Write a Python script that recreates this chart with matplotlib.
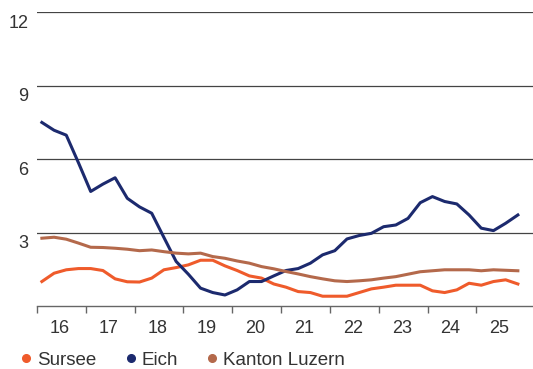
import matplotlib
matplotlib.use("Agg")
import matplotlib.pyplot as plt
import matplotlib.transforms as mtransforms
import numpy as np

# quarterly values, 2016 Q1 .. 2025 Q4
sursee = [1.0, 1.34, 1.48, 1.53, 1.53, 1.45, 1.11, 0.99, 0.98, 1.14,
          1.48, 1.57, 1.68, 1.87, 1.87, 1.64, 1.45, 1.23, 1.14, 0.9,
          0.77, 0.59, 0.55, 0.4, 0.4, 0.4, 0.55, 0.7, 0.77, 0.85,
          0.85, 0.85, 0.62, 0.55, 0.66, 0.93, 0.85, 1.0, 1.07, 0.9]
eich = [7.5, 7.18, 6.98, 5.85, 4.68, 4.98, 5.24, 4.4, 4.05, 3.79,
        2.8, 1.82, 1.3, 0.73, 0.55, 0.45, 0.66, 1.0, 1.0, 1.23,
        1.45, 1.53, 1.75, 2.09, 2.26, 2.74, 2.88, 2.97, 3.24, 3.31,
        3.58, 4.22, 4.47, 4.27, 4.17, 3.72, 3.18, 3.08, 3.38, 3.72]
luzern = [2.77, 2.81, 2.73, 2.57, 2.4, 2.39, 2.36, 2.32, 2.26, 2.29,
          2.22, 2.16, 2.13, 2.16, 2.02, 1.95, 1.84, 1.75, 1.61, 1.52,
          1.41, 1.31, 1.2, 1.11, 1.03, 1.0, 1.03, 1.07, 1.14, 1.2,
          1.3, 1.4, 1.44, 1.48, 1.48, 1.48, 1.44, 1.48, 1.46, 1.44]
years = list(range(2016, 2026))
year_labels = ["16", "17", "18", "19", "20", "21", "22", "23", "24", "25"]
y_ticks = [3, 6, 9, 12]

t = 2016.1 + 0.25 * np.arange(len(eich))

plt.rcParams['font.family'] = ['Liberation Sans', 'DejaVu Sans']

fig = plt.figure(figsize=(5.33, 3.69), dpi=100)
ax = fig.add_axes([0.0694, 0.1707, 0.9306, 0.796])

ax.plot(t, sursee, color='#ef5b2b', lw=2.2, solid_joinstyle='round', label='Sursee')
ax.plot(t, eich, color='#1c2a6e', lw=2.2, solid_joinstyle='round', label='Eich')
ax.plot(t, luzern, color='#b4694b', lw=2.2, solid_joinstyle='round', label='Kanton Luzern')

ax.set_xlim(2016, 2026.16)
ax.set_ylim(0, 12)

for v in y_ticks:
    ax.axhline(v, color='#444444', lw=0.9, zorder=0)

for s in ['top', 'right', 'left']:
    ax.spines[s].set_visible(False)
ax.spines['bottom'].set_color('#666666')
ax.spines['bottom'].set_linewidth(1.0)

ax.set_xticks(years)
ax.set_xticklabels([])
ax.tick_params(axis='x', which='major', direction='out', length=5, width=1, color='#666666')
ax.set_xticks([y + 0.47 for y in years], minor=True)
ax.set_xticklabels(year_labels, minor=True)
ax.tick_params(axis='x', which='minor', length=0, pad=10, labelsize=13, labelcolor='#333333')

ax.set_yticks(y_ticks)
ax.set_yticklabels([str(v) for v in y_ticks])
ax.tick_params(axis='y', length=0, pad=6, labelsize=13, labelcolor='#333333')
offset = mtransforms.ScaledTranslation(0, -6.5 / 72, fig.dpi_scale_trans)
for lab in ax.get_yticklabels():
    lab.set_transform(lab.get_transform() + offset)

handles = [plt.Line2D([], [], marker='o', ls='none', ms=5.5, color=c)
           for c in ['#ef5b2b', '#1c2a6e', '#b4694b']]
fig.legend(handles, ['Sursee', 'Eich', 'Kanton Luzern'], loc='lower left',
           bbox_to_anchor=(0.0, -0.045), ncol=3, frameon=False, fontsize=13.5,
           handletextpad=0.1, columnspacing=1.3, handlelength=1.0,
           labelcolor='#333333')

fig.savefig("out.png", dpi=100)
